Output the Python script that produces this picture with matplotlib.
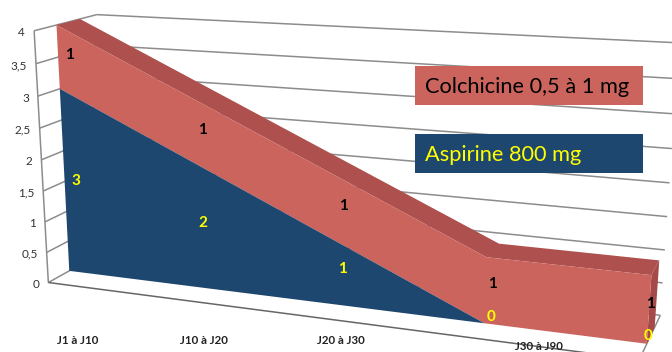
import numpy as np
import matplotlib
matplotlib.use("Agg")
import matplotlib.pyplot as plt
from matplotlib.patches import Polygon, Rectangle

categories = ["J1 à J10", "J10 à J20", "J20 à J30", "J30 à J90", ""]
aspirine = [3, 2, 1, 0, 0]
colchicine = [1, 1, 1, 1, 1]
y_ticks = [0, 0.5, 1, 1.5, 2, 2.5, 3, 3.5, 4]
y_labels = ["0", "0,5", "1", "1,5", "2", "2,5", "3", "3,5", "4"]

# camera calibration: box coordinates (category, value, depth) -> picture pixels
calib_3d = np.array([(0,0,0),(0,3,0),(0,4,0),(3,0,0),(3,1,0),(4,0,0),(4,1,0),
                     (0,4,1),(3,1,1),(4,1,1),(0,4,1.75),(4,0,1.75),(4,2,1.75),
                     (0,0,-.9),(0,4,-.9)], float)
calib_2d = np.array([(68,272),(58,90),(56,25),(483,323),(486,259),(648,344),(652,274),
                     (80,19),(500,244),(658,261),(98,14),(661,314),(669,183),
                     (50,281),(35,30)], float)
A = []
for (X, Y, Z), (u, v) in zip(calib_3d, calib_2d):
    A.append([X, Y, Z, 1, 0, 0, 0, 0, -u*X, -u*Y, -u*Z, -u])
    A.append([0, 0, 0, 0, X, Y, Z, 1, -v*X, -v*Y, -v*Z, -v])
P = np.linalg.svd(np.array(A))[2][-1].reshape(3, 4)

def proj(x, y, z):
    h = P @ np.array([x, y, z, 1.0])
    return h[0] / h[2], h[1] / h[2]

FONT = "Lato"
Z_FRONT, Z_WALL = -0.9, 1.75
n = len(categories)
xs = list(range(n))
stack = [a + c for a, c in zip(aspirine, colchicine)]

fig = plt.figure(figsize=(6.72, 3.52), dpi=100)
ax = fig.add_axes([0, 0, 1, 1])
ax.set_xlim(0, 672)
ax.set_ylim(352, 0)
ax.axis("off")

GRID = "#8c8c8c"
def line(p, q, lw=1.1, c=GRID, z=1):
    ax.plot(*zip(proj(*p), proj(*q)), color=c, lw=lw, zorder=z, solid_capstyle="butt")

for t, lab in zip(y_ticks, y_labels):
    line((0, t, Z_FRONT), (0, t, Z_WALL))
    line((0, t, Z_WALL), (n - 1, t, Z_WALL))
    px, py = proj(0, t, Z_FRONT)
    ax.text(px - 9, py + 2, lab, ha="right", va="center", fontsize=8.5, family=FONT, color="#333333")
line((0, 0, Z_FRONT), (0, 4, Z_FRONT))
line((0, 0, Z_FRONT), (n - 1, 0, Z_FRONT), c="#666666")
line((n - 1, 0, Z_FRONT), (n - 1, 0, Z_WALL))

def face(pts, color, z):
    ax.add_patch(Polygon([proj(*p) for p in pts], closed=True, fc=color, ec="none", zorder=z))

RED, RED_TOP, RED_SIDE, BLUE = "#CB645D", "#AE504E", "#A54A49", "#1E476F"
# top of the red band, right side, then the front faces
top = [(x, s, 0) for x, s in zip(xs, stack)] + [(x, s, 1) for x, s in zip(xs[::-1], stack[::-1])]
face(top, RED_TOP, 3)
face([(n-1, stack[-1], 0), (n-1, stack[-1], 1), (n-1, 0, 1), (n-1, 0, 0)], RED_SIDE, 3)
face([(x, s, 0) for x, s in zip(xs, stack)] + [(x, a, 0) for x, a in zip(xs[::-1], aspirine[::-1])], RED, 4)
face([(x, a, 0) for x, a in zip(xs, aspirine)] + [(n-1, 0, 0), (0, 0, 0)], BLUE, 5)

# value labels: pixel nudges from the projected anchor
red_nudge = [(11, -2), (10, -1), (8, -2), (7, -6), (1, -6)]
blue_nudge = [(11, 0), (8, -3), (8, -4), (7, -6), (1, -8)]
for i in range(n):
    px, py = proj(i, aspirine[i] + colchicine[i] / 2, 0)
    ax.text(px + red_nudge[i][0], py + red_nudge[i][1], str(colchicine[i]), color="black", fontsize=11,
            fontweight="bold", family=FONT, ha="center", va="center", zorder=7)
    px, py = proj(i, aspirine[i] / 2, 0)
    ax.text(px + blue_nudge[i][0], py + blue_nudge[i][1], str(aspirine[i]), color="#FFFF00", fontsize=11,
            fontweight="bold", family=FONT, ha="center", va="center", zorder=7)

# category labels
for lab, (lx, ly) in zip(categories, [(78, 340), (204, 340), (341, 340), (539, 346)]):
    ax.text(lx, ly, lab, ha="center", va="center", fontsize=8.3, fontweight="bold", family=FONT,
            color="#222222", zorder=7)

# legend boxes
ax.add_patch(Rectangle((415, 66), 228, 39, fc=RED, ec="none", zorder=8))
ax.add_patch(Rectangle((415, 134), 228, 39, fc=BLUE, ec="none", zorder=8))
ax.text(425, 87, "Colchicine 0,5 à 1 mg", color="black", fontsize=15.7, family=FONT, va="center", zorder=9)
ax.text(425, 155, "Aspirine 800 mg", color="#FFFF00", fontsize=15.7, family=FONT, va="center", zorder=9)

fig.savefig("out.png", dpi=100)
